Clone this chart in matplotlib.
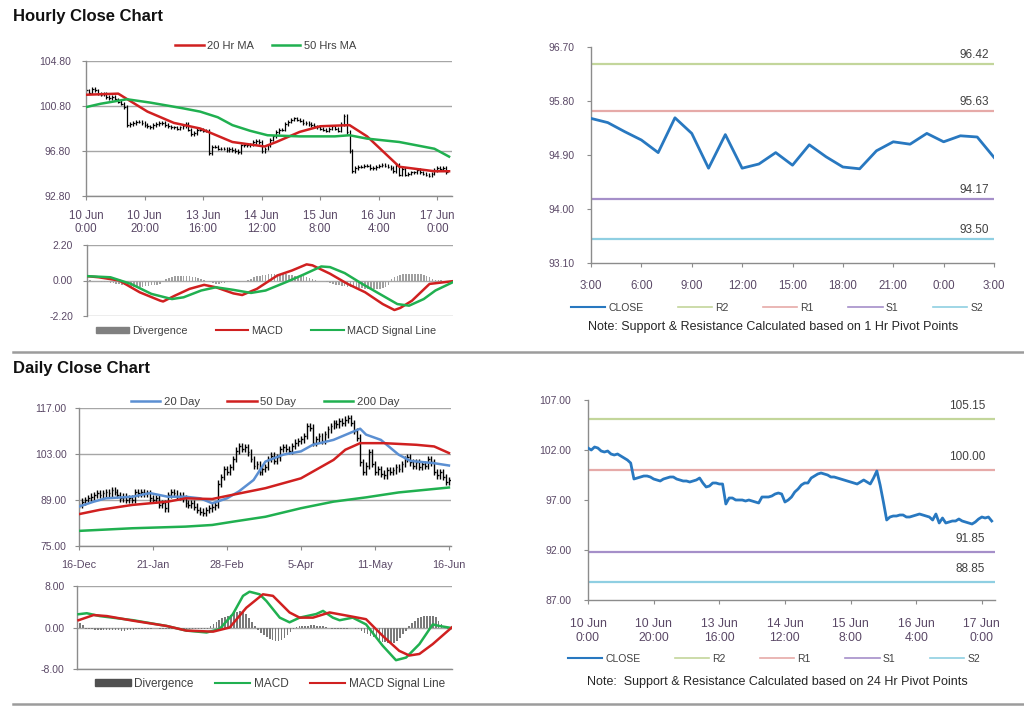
import matplotlib
matplotlib.use("Agg")
import matplotlib.pyplot as plt
from matplotlib.lines import Line2D
from matplotlib.patches import Patch
import numpy as np

plt.rcParams['font.family'] = ['Liberation Sans', 'DejaVu Sans']

# ---- hourly closes, 10 Jun 0:00 onwards (one value per trading hour)
hr_close = [102.2, 102.0, 102.3, 102.2, 101.9, 101.8, 101.9, 101.6, 101.5, 101.6, 101.4, 101.2, 101.0, 100.7,
            99.1, 99.2, 99.3, 99.4, 99.4, 99.3, 99.1, 99.0, 98.9, 99.1, 99.2, 99.3, 99.3, 99.1,
            99.0, 98.9, 98.9, 98.8, 98.9, 99.0, 99.2, 98.7, 98.3, 98.4, 98.7, 98.7, 98.6, 98.6,
            96.6, 97.2, 97.2, 97.0, 97.0, 97.0, 96.9, 97.0, 96.9, 96.8, 96.7, 97.3, 97.3, 97.3,
            97.4, 97.6, 97.7, 97.6, 96.8, 97.0, 97.3, 97.8, 98.1, 98.5, 98.7, 98.7, 99.2, 99.4,
            99.6, 99.7, 99.6, 99.5, 99.3, 99.3, 99.2, 99.1, 99.0, 98.9, 98.8, 98.7, 98.6, 98.8,
            99.0, 98.8, 98.6, 99.2, 99.9, 98.5, 96.8, 95.0, 95.3, 95.4, 95.4, 95.5, 95.5, 95.3,
            95.3, 95.4, 95.5, 95.6, 95.5, 95.4, 95.3, 95.0, 95.6, 94.7, 95.2, 94.7, 94.8, 94.9,
            94.9, 95.1, 94.9, 94.8, 94.7, 94.6, 94.8, 95.1, 95.3, 95.2, 95.3, 94.9]
hr_ticks = [0, 20, 40, 60, 80, 100, 120]
hr_ticklabels = ['10 Jun\n0:00', '10 Jun\n20:00', '13 Jun\n16:00', '14 Jun\n12:00',
                 '15 Jun\n8:00', '16 Jun\n4:00', '17 Jun\n0:00']

ma20_h = [0, 11, 21, 30, 39, 50, 61, 65, 73, 80, 90, 96, 107, 119, 124]
ma20_v = [101.8, 101.9, 100.3, 99.3, 98.8, 97.6, 97.2, 97.6, 98.5, 99.0, 99.1, 98.1, 95.4, 95.0, 95.0]
ma50_h = [0, 5, 14, 22, 33, 39, 45, 50, 56, 62, 73, 85, 90, 96, 107, 119, 124]
ma50_v = [100.7, 101.0, 101.4, 101.1, 100.6, 100.3, 99.8, 99.1, 98.6, 98.2, 98.1, 98.1, 98.2, 97.9, 97.6, 97.0, 96.3]

# hourly MACD
hmacd_h = [0, 4, 11, 18, 25, 26, 30, 35, 40, 44, 50, 53, 58, 65, 70, 75, 77, 83, 89, 95, 101, 105, 107, 111, 117, 119, 125]
hmacd_v = [0.27, 0.2, 0.0, -0.73, -1.25, -1.3, -0.94, -0.52, -0.27, -0.42, -0.8, -0.9, -0.52, 0.31, 0.62, 1.0,
           0.94, 0.42, -0.21, -0.73, -1.46, -1.83, -1.7, -1.25, -0.21, -0.17, -0.04]
hsig_h = [0, 8, 15, 22, 29, 33, 39, 44, 50, 56, 61, 68, 74, 80, 83, 88, 94, 101, 106, 110, 115, 119, 125]
hsig_v = [0.27, 0.2, -0.21, -0.83, -1.15, -1.04, -0.62, -0.42, -0.58, -0.77, -0.62, -0.1, 0.37, 0.87, 0.83,
          0.46, -0.21, -0.94, -1.46, -1.56, -1.15, -0.62, -0.1]
hdiv = [0.05, 0.05, 0.0, -0.05, -0.05,
        -0.1, -0.1, -0.1, -0.15, -0.15, -0.2, -0.2, -0.25,
        -0.3, -0.35, -0.4, -0.4, -0.45, -0.4, -0.4, -0.35, -0.35, -0.3, -0.3, -0.25, -0.2, -0.1,
        0.1, 0.15, 0.2, 0.25, 0.25, 0.3, 0.3, 0.25, 0.25, 0.2, 0.2, 0.15, 0.1, 0.05,
        -0.05, -0.1, -0.15, -0.2, -0.2, -0.15, -0.15, -0.1, -0.1, -0.05, -0.1, -0.1, -0.05, 0.0, 0.05,
        0.1, 0.2, 0.25, 0.3, 0.35, 0.35, 0.4, 0.4, 0.4, 0.35, 0.35, 0.4, 0.4, 0.35, 0.35, 0.3, 0.3, 0.3,
        0.25, 0.2, 0.15, 0.1,
        0.05, 0.0, -0.05, -0.05, -0.1, -0.15, -0.2,
        -0.25, -0.3, -0.35, -0.35, -0.4, -0.4, -0.35, -0.4, -0.45, -0.45, -0.5, -0.5, -0.55, -0.55, -0.5,
        -0.5, -0.45, -0.4, -0.3,
        0.1, 0.2, 0.3, 0.35, 0.4, 0.4, 0.4, 0.4, 0.4, 0.4, 0.4, 0.35, 0.3, 0.2, 0.1,
        0.05, 0.05, 0.05, 0.0, 0.0, 0.0]

# ---- 1 hr pivot chart (last 24 hours)
pv_close = [95.51, 95.44, 95.29, 95.15, 94.94, 95.52, 95.26, 94.68, 95.24, 94.68, 94.75, 94.94, 94.73,
            95.07, 94.87, 94.70, 94.67, 94.97, 95.12, 95.08, 95.26, 95.12, 95.22, 95.20, 94.86]
pv_ticklabels = ['3:00', '6:00', '9:00', '12:00', '15:00', '18:00', '21:00', '0:00', '3:00']
pv_levels = [96.42, 95.63, 94.17, 93.50]

# ---- daily closes, 16-Dec to 16-Jun
dy_close = [87.5, 88.5, 89.0, 89.5, 90.0, 90.5, 91.0, 90.5, 91.0, 91.5, 91.0, 92.0, 91.5,
            90.5, 89.5, 90.0, 89.0, 89.5, 89.0, 91.5, 91.0, 91.5, 91.0, 91.0, 89.5, 89.0, 89.5,
            87.5, 88.0, 86.5, 90.5, 91.5, 91.0, 90.0, 90.5, 89.5, 88.0, 87.5, 88.0,
            87.0, 86.0, 85.5, 85.0, 86.0, 86.5, 87.0, 87.5, 94.0, 96.0, 98.5, 97.5,
            99.0, 101.5, 104.0, 105.5, 104.5, 105.0, 103.5, 101.5, 99.5, 100.0, 97.5, 98.5, 99.0,
            101.5, 102.5, 101.0, 102.0, 104.5, 105.0, 104.5, 104.0, 105.5,
            106.5, 107.0, 107.5, 108.5, 111.5, 111.0, 106.5, 107.5, 108.5, 107.0, 109.0, 110.5,
            111.5, 112.5, 112.0, 113.0, 112.5, 113.5, 114.0, 112.5, 110.0, 108.0, 100.5, 97.5,
            99.5, 103.5, 100.0, 97.5, 98.5, 97.0, 96.5, 98.0, 97.5, 98.0, 99.0, 98.5, 100.0,
            101.5, 102.0, 100.5, 99.5, 100.5, 99.0, 100.0, 99.5, 101.5, 100.5,
            97.5, 96.5, 97.5, 96.0, 94.5, 95.0]
dy_ticks = [0, 25, 50, 75, 100, 125]
dy_ticklabels = ['16-Dec', '21-Jan', '28-Feb', '5-Apr', '11-May', '16-Jun']

ma20d_d = [0, 5, 9, 18, 24, 30, 36, 41, 45, 50, 54, 59, 63, 69, 75, 79, 86, 95, 97, 102, 108, 112, 120, 125]
ma20d_v = [87.0, 88.5, 89.5, 90.0, 91.1, 90.0, 90.0, 89.5, 88.0, 89.5, 91.6, 95.1, 100.7, 102.8, 103.8,
           105.8, 107.3, 110.7, 108.9, 107.3, 102.8, 100.9, 100.2, 99.5]
ma50d_d = [0, 7, 18, 30, 36, 45, 52, 63, 75, 86, 90, 95, 103, 114, 120, 125]
ma50d_v = [84.7, 86.0, 87.5, 88.5, 89.5, 89.3, 90.6, 92.6, 95.6, 101.2, 104.3, 106.3, 106.3, 105.8, 105.3, 103.3]
ma200d_d = [0, 18, 36, 45, 52, 63, 75, 86, 97, 108, 125]
ma200d_v = [79.6, 80.4, 80.9, 81.4, 82.4, 83.9, 86.5, 88.5, 89.8, 91.3, 92.8]

# daily MACD
dmacd_d = [0.5, 3.3, 7.7, 19.0, 30.2, 36.9, 43.7, 48.1, 52.6, 56.0, 58.2, 61.6, 63.9, 68.4, 71.7, 75.1,
           80.7, 83.0, 86.3, 88.6, 93.0, 97.5, 103.1, 107.6, 111.0, 115.5, 120.0, 122.2, 126.4]
dmacd_v = [2.56, 2.75, 2.2, 1.4, 0.3, -0.6, -0.96, -0.3, 2.6, 6.1, 6.9, 6.4, 5.1, 1.9, 1.0, 1.9,
           2.6, 3.2, 1.9, 1.4, 1.9, 0.6, -3.5, -6.3, -5.8, -3.2, 0.6, 0.3, -0.1]
dsig_d = [0.5, 5.6, 10.1, 19.0, 30.2, 36.9, 45.9, 51.5, 57.1, 62.7, 66.1, 71.7, 75.1, 79.6, 85.2, 91.9,
          97.5, 103.1, 108.7, 112.1, 115.5, 120.0, 126.4]
dsig_v = [1.4, 2.4, 2.2, 1.3, 0.3, -0.6, -0.8, 0.0, 3.8, 6.4, 6.1, 2.9, 1.9, 1.9, 2.9, 2.2,
          1.6, -1.6, -4.5, -5.4, -5.1, -3.2, 0.0]
ddiv = [1.2, 0.9, 0.5,
        -0.2, -0.3, -0.3, -0.4, -0.4, -0.4, -0.5, -0.5, -0.4, -0.4,
        -0.5, -0.5, -0.6, -0.6, -0.5, -0.5, -0.4, -0.3, -0.3, -0.3,
        -0.2, -0.2, -0.2, -0.1, -0.1, -0.2, -0.2, -0.3, -0.3, -0.3,
        -0.3, -0.2, -0.3, -0.3, -0.2, -0.3, -0.3, -0.2, -0.2, -0.2, -0.3, -0.2,
        0.2, 0.6, 1.0, 1.4, 1.8, 2.1, 2.3, 2.5,
        2.7, 2.9, 3.1, 3.0, 2.6, 1.8, 1.0,
        0.2, -0.5, -1.0, -1.5, -1.9, -2.2, -2.4,
        -2.6, -2.6, -2.4, -2.0, -1.4, -0.8, -0.3,
        0.1, 0.2, 0.2, 0.3, 0.3, 0.4, 0.4,
        0.3, 0.3, 0.2, 0.1, -0.1, -0.2, -0.2,
        -0.3, -0.3, -0.2, -0.2, -0.1, -0.1, -0.2, -0.3,
        -0.6, -1.0, -1.3, -1.6, -1.9, -2.2, -2.5,
        -2.7, -2.8, -2.9, -3.0, -2.9, -2.6, -2.0,
        -1.3, -0.6, 0.2, 0.8, 1.3,
        1.8, 2.1, 2.2, 2.2, 2.2, 2.2, 2.1,
        1.2, 0.6, 0.2, -0.2]

# ---- 24 hr pivot levels
pv24_levels = [105.15, 100.00, 91.85, 88.85]

LEVEL_COLORS = ['#c3d69b', '#e6aaa8', '#a58fc9', '#8fcfe2']
LEVEL_NAMES = ['R2', 'R1', 'S1', 'S2']
TXT = '#404040'
TICK = '#5a4866'
GRID = '#a6a6a6'
RED = '#d02020'
GREEN = '#20b050'
BLUE = '#5b8fd2'
CBLUE = '#2878c0'

W, H = 1024, 706
fig = plt.figure(figsize=(W / 100, H / 100), dpi=100)


def box(x0, y0, x1, y1):
    return fig.add_axes([x0 / W, 1 - y1 / H, (x1 - x0) / W, (y1 - y0) / H])


def style(ax, grid=True, xsize=8, ysize=7.5, xpad=4, ypad=6):
    for s in ['top', 'right']:
        ax.spines[s].set_visible(False)
    for s in ['left', 'bottom']:
        ax.spines[s].set_color('#8c8c8c')
        ax.spines[s].set_linewidth(1.0)
    ax.tick_params(colors='#8c8c8c', labelcolor=TICK, length=3, width=0.8)
    ax.tick_params(axis='x', labelsize=xsize, pad=xpad)
    ax.tick_params(axis='y', labelsize=ysize, pad=ypad)
    if grid:
        ax.yaxis.grid(True, color=GRID, lw=1.0)
        ax.set_axisbelow(True)


def bars(ax, close, wick, lw):
    c = np.array(close)
    prev = np.concatenate([[c[0]], c[:-1]])
    lo = np.minimum(prev, c) - wick
    hi = np.maximum(prev, c) + wick
    x = np.arange(len(c))
    ax.vlines(x, lo, hi, color='black', lw=lw, zorder=2)
    ax.hlines(c, x, x + 0.6, color='black', lw=lw, zorder=2)


def pivot_legend(ax, y):
    handles = [Line2D([], [], color=CBLUE, lw=1.5)] + [Line2D([], [], color=c, lw=1.2) for c in LEVEL_COLORS]
    ax.legend(handles, ['CLOSE'] + LEVEL_NAMES, loc='upper left', bbox_to_anchor=(-0.05, y), ncol=5,
              frameon=False, fontsize=7.5, handlelength=3.3, handletextpad=0.3, columnspacing=3.3,
              labelcolor=TXT, borderaxespad=0, borderpad=0)


# ===== titles and separators
fig.text(13 / W, 1 - 16 / H, 'Hourly Close Chart', fontsize=12, fontweight='bold', va='center', color='#111111')
fig.text(13 / W, 1 - 369 / H, 'Daily Close Chart', fontsize=12, fontweight='bold', va='center', color='#111111')
fig.add_artist(Line2D([13 / W, 1], [1 - 352 / H] * 2, color='#9c9c9c', lw=1.8))
fig.add_artist(Line2D([13 / W, 1], [1 - 704 / H] * 2, color='#9c9c9c', lw=1.8))

# ===== hourly price
ax = box(86, 61, 452, 196)
style(ax, xsize=8.3, xpad=7, ypad=8)
bars(ax, hr_close, 0.15, 0.9)
ax.plot(ma20_h, ma20_v, color=RED, lw=1.8, label='20 Hr MA', zorder=3)
ax.plot(ma50_h, ma50_v, color=GREEN, lw=1.8, label='50 Hrs MA', zorder=3)
ax.set_xlim(0, 125)
ax.set_ylim(92.8, 104.8)
ax.set_yticks([92.8, 96.8, 100.8, 104.8])
ax.set_yticklabels(['%.2f' % v for v in [92.8, 96.8, 100.8, 104.8]])
ax.set_xticks(hr_ticks)
ax.set_xticklabels(hr_ticklabels, linespacing=1.15)
ax.legend(loc='lower center', bbox_to_anchor=(0.49, 1.0), ncol=2, frameon=False, fontsize=8,
          handlelength=2.6, handletextpad=0.3, columnspacing=1.6, labelcolor=TXT)

# ===== hourly MACD
ax = box(87, 245, 453, 316)
style(ax, ysize=7.5, ypad=7)
ax.bar(np.arange(len(hdiv)), hdiv, width=0.55, color='#a0a0a0', zorder=2)
ax.plot(hmacd_h, hmacd_v, color=RED, lw=1.8, zorder=3)
ax.plot(hsig_h, hsig_v, color=GREEN, lw=1.8, zorder=3)
ax.set_xlim(0, 125)
ax.set_ylim(-2.2, 2.2)
ax.set_yticks([-2.2, 0, 2.2])
ax.set_yticklabels(['-2.20', '0.00', '2.20'])
ax.set_xticks([])
ax.spines['bottom'].set_visible(False)
handles = [Patch(color='#808080'), Line2D([], [], color=RED, lw=1.5), Line2D([], [], color=GREEN, lw=1.5)]
ax.legend(handles, ['Divergence', 'MACD', 'MACD Signal Line'], loc='upper center', bbox_to_anchor=(0.49, 0.0),
          ncol=3, frameon=False, fontsize=7.8, handlelength=3.0, handleheight=0.5, handletextpad=0.3,
          columnspacing=2.6, labelcolor=TXT)

# ===== 1 hr pivot chart
ax = box(591, 47, 994, 263)
style(ax, grid=False, xsize=8.3, ysize=7.5, xpad=9, ypad=9)
for lvl, col in zip(pv_levels, LEVEL_COLORS):
    ax.axhline(lvl, color=col, lw=1.6, zorder=1)
    ax.text(23.7, lvl + 0.05, '%.2f' % lvl, ha='right', va='bottom', fontsize=8.5, color=TXT)
ax.plot(np.arange(len(pv_close)), pv_close, color=CBLUE, lw=2.0, zorder=3)
ax.set_xlim(0, 24)
ax.set_ylim(93.1, 96.7)
ax.set_yticks([93.1, 94.0, 94.9, 95.8, 96.7])
ax.set_yticklabels(['%.2f' % v for v in [93.1, 94.0, 94.9, 95.8, 96.7]])
ax.set_xticks(range(0, 25, 3))
ax.set_xticklabels(pv_ticklabels)
pivot_legend(ax, -0.185)
fig.text(588 / W, 1 - 327 / H, 'Note: Support & Resistance Calculated based on 1 Hr Pivot Points',
         fontsize=9, va='center', color='#262626')

# ===== daily price
ax = box(79, 408, 451, 546)
style(ax, xsize=7.8, ysize=7.5, xpad=7, ypad=6)
bars(ax, dy_close, 1.0, 1.0)
ax.plot(ma20d_d, ma20d_v, color=BLUE, lw=1.8, label='20 Day', zorder=3)
ax.plot(ma50d_d, ma50d_v, color=RED, lw=1.8, label='50 Day', zorder=3)
ax.plot(ma200d_d, ma200d_v, color=GREEN, lw=1.8, label='200 Day', zorder=3)
ax.set_xlim(0, 125.7)
ax.set_ylim(75, 117)
ax.set_yticks([75, 89, 103, 117])
ax.set_yticklabels(['%.2f' % v for v in [75, 89, 103, 117]])
ax.set_xticks(dy_ticks)
ax.set_xticklabels(dy_ticklabels)
ax.legend(loc='lower center', bbox_to_anchor=(0.5, 0.93), ncol=3, frameon=False, fontsize=8.2,
          handlelength=2.6, handletextpad=0.3, columnspacing=2.4, labelcolor=TXT)

# ===== daily MACD
ax = box(77, 586, 452, 669)
style(ax, ysize=7.5, ypad=6)
ax.bar(np.arange(len(ddiv)), ddiv, width=0.55, color='#7a7a7a', zorder=2)
ax.plot(dmacd_d, dmacd_v, color=GREEN, lw=1.8, zorder=3)
ax.plot(dsig_d, dsig_v, color=RED, lw=1.8, zorder=3)
ax.set_xlim(0, 126.5)
ax.set_ylim(-8, 8)
ax.set_yticks([-8, 0, 8])
ax.set_yticklabels(['-8.00', '0.00', '8.00'])
ax.set_xticks([])
handles = [Patch(color='#505050'), Line2D([], [], color=GREEN, lw=1.5), Line2D([], [], color=RED, lw=1.5)]
ax.legend(handles, ['Divergence', 'MACD', 'MACD Signal Line'], loc='upper center', bbox_to_anchor=(0.515, 0.02),
          ncol=3, frameon=False, fontsize=8.5, handlelength=3.0, handleheight=0.5, handletextpad=0.3,
          columnspacing=1.8, labelcolor=TXT)

# ===== 24 hr pivot chart
ax = box(588, 400, 995, 600)
style(ax, grid=False, xsize=8.8, ysize=7.5, xpad=10, ypad=9)
for lvl, col in zip(pv24_levels, LEVEL_COLORS):
    ax.axhline(lvl, color=col, lw=1.6, zorder=1)
    ax.text(121, lvl + 0.7, '%.2f' % lvl, ha='right', va='bottom', fontsize=8.5, color=TXT)
ax.plot(np.arange(len(hr_close)), hr_close, color=CBLUE, lw=2.0, zorder=3)
ax.set_xlim(0, 124)
ax.set_ylim(87, 107)
ax.set_yticks([87, 92, 97, 102, 107])
ax.set_yticklabels(['%.2f' % v for v in [87, 92, 97, 102, 107]])
ax.set_xticks(hr_ticks)
ax.set_xticklabels(hr_ticklabels, linespacing=1.25)
pivot_legend(ax, -0.27)
fig.text(587 / W, 1 - 682 / H, 'Note:  Support & Resistance Calculated based on 24 Hr Pivot Points',
         fontsize=9, va='center', color='#262626')

fig.savefig('out.png', dpi=100)
